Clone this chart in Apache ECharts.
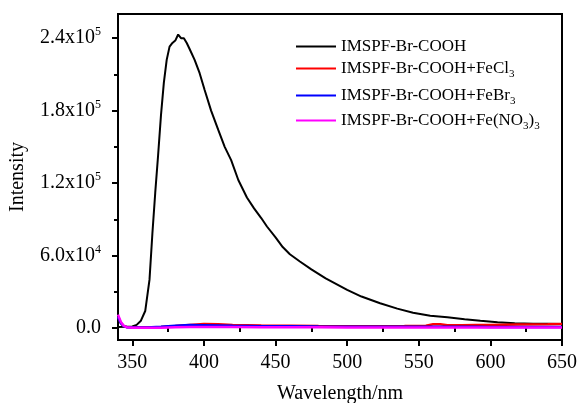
<!DOCTYPE html>
<html><head><meta charset="utf-8">
<script src="https://cdn.jsdelivr.net/npm/echarts@6/dist/echarts.min.js"></script>
<style>html,body{margin:0;padding:0;background:#fff}#c{width:582px;height:403px}</style>
</head><body><div id="c"></div>
<script>
// Series names
const seriesNames = ['IMSPF-Br-COOH', 'IMSPF-Br-COOH+FeCl3', 'IMSPF-Br-COOH+FeBr3', 'IMSPF-Br-COOH+Fe(NO3)3'];
// Black curve (pure compound)
const wlPure = [340,345,350,353,356,359,362,364,366,368,370,372,374,376,378,380,382,384,386,388,390,393.5,397,400.5,405,410,414.5,419,424,430,435,440,444,450,455,460,467,475,485,500,510,523,535,546,558,570,582,593,605,617,630,640,650];
const intPure = [800,900,1200,2500,6000,14000,40000,78000,112000,143000,176000,203000,222000,233000,236000,238000,243000,240000,240000,236000,231000,222000,211000,197000,180000,164000,150000,139000,122500,108000,99000,91000,84000,75000,67000,61000,55000,48500,41000,31500,26000,20400,16000,12500,10000,8800,7200,6000,4800,3900,3500,3400,3300];
// Quenched curves
const wlQ = [340,342,344,346,350,360,370,380,390,400,410,420,440,460,480,500,520,540,555,560,565,570,580,590,600,620,640,650];
const intFeCl3 = [9000,4000,1500,800,500,500,800,1500,2500,3200,3000,2500,2000,1800,1500,1300,1300,1500,1800,3000,3000,2200,2300,2500,2400,2800,3000,3200];
const intFeBr3 = [9000,4000,1500,600,300,400,900,1800,2400,2300,2000,1700,1400,1300,1100,1000,1000,900,900,900,900,900,900,900,850,800,800,800];
const intFeNO3 = [11000,5000,1800,600,200,100,200,500,700,800,750,700,600,550,500,450,450,400,400,400,400,400,400,400,400,400,400,400];
// Axis ticks / labels
const xMajor = [350,400,450,500,550,600,650];
const xMinor = [375,425,475,525,575,625];
const yMajor = [0,60000,120000,180000,240000];
const yMinor = [30000,90000,150000,210000];
const yLabelMant = ['0.0','6.0x10','1.2x10','1.8x10','2.4x10'];
const yLabelExp = ['','4','5','5','5'];

const colors = ['#000000','#ff0000','#0000ff','#ff00ff'];
const FONT = '"Liberation Serif","Times New Roman",serif';

function pairs(xs, ys){ return xs.map((x,i)=>[x, ys[i]]); }
function legendFmt(name){
  return name
    .replace('FeCl3','FeCl{s|3}')
    .replace('FeBr3','FeBr{s|3}')
    .replace('Fe(NO3)3','Fe(NO{s|3}){s|3}');
}

const chart = echarts.init(document.getElementById('c'), null, {renderer:'canvas'});
const dataSets = [pairs(wlPure,intPure), pairs(wlQ,intFeCl3), pairs(wlQ,intFeBr3), pairs(wlQ,intFeNO3)];
const legendTops = [33, 55, 82, 107];

const option = {
  animation: false,
  backgroundColor: '#fff',
  textStyle: {fontFamily: FONT, color:'#000'},
  grid: {left:118, right:20, top:14, bottom:63, show:true, borderColor:'#000', borderWidth:2, outerBoundsMode:'none', containLabel:false},
  legend: seriesNames.map((n,i)=>({
    orient:'vertical', left:291, top:legendTops[i], itemWidth:40, itemHeight:2,
    icon:'rect', data:[n], formatter: legendFmt,
    textStyle: {fontFamily:FONT, fontSize:17, color:'#000',
      rich:{s:{fontFamily:FONT, fontSize:11, color:'#000', padding:[12,0,0,0]}}}
  })),
  xAxis: [{
    type:'value', min:340, max:650,
    axisLine:{show:true, onZero:false, lineStyle:{color:'#000', width:2}},
    axisTick:{show:true, customValues:xMajor, length:6, lineStyle:{color:'#000', width:2}},
    axisLabel:{customValues:xMajor, fontFamily:FONT, fontSize:20, color:'#000', margin:13},
    splitLine:{show:false},
    name:'Wavelength/nm', nameLocation:'middle', nameGap:44,
    nameTextStyle:{fontFamily:FONT, fontSize:20, color:'#000'}
  },{
    type:'value', min:340, max:650, position:'bottom',
    axisLine:{show:false},
    axisTick:{show:true, customValues:xMinor, length:4, lineStyle:{color:'#000', width:2}},
    axisLabel:{show:false}, splitLine:{show:false}
  }],
  yAxis: [{
    type:'value', min:-10000, max:260000,
    axisLine:{show:true, onZero:false, lineStyle:{color:'#000', width:2}},
    axisTick:{show:true, customValues:yMajor, length:6, lineStyle:{color:'#000', width:2}},
    axisLabel:{customValues:yMajor, margin:17,
      formatter:function(v){ const i = yMajor.indexOf(v); if(i<0) return ''; return yLabelExp[i] ? '{b|'+yLabelMant[i]+'}{e|'+yLabelExp[i]+'}' : '{b|'+yLabelMant[i]+'}'; },
      rich:{b:{fontFamily:FONT, fontSize:20, color:'#000'}, e:{fontFamily:FONT, fontSize:12, color:'#000', padding:[0,0,12,0]}}
    },
    splitLine:{show:false},
    name:'Intensity', nameLocation:'middle', nameGap:90, nameRotate:90,
    nameTextStyle:{fontFamily:FONT, fontSize:20, color:'#000'}
  },{
    type:'value', min:-10000, max:260000, position:'left',
    axisLine:{show:false},
    axisTick:{show:true, customValues:yMinor, length:4, lineStyle:{color:'#000', width:2}},
    axisLabel:{show:false}, splitLine:{show:false}
  }],
  series: seriesNames.map((n,i)=>({
    name:n, type:'line', xAxisIndex:0, yAxisIndex:0, data:dataSets[i],
    showSymbol:false, symbol:'none', smooth:false,
    lineStyle:{color:colors[i], width: i===0 ? 2 : 2.5}, itemStyle:{color:colors[i]}, z:2+i
  }))
};
chart.setOption(option);
</script></body></html>
